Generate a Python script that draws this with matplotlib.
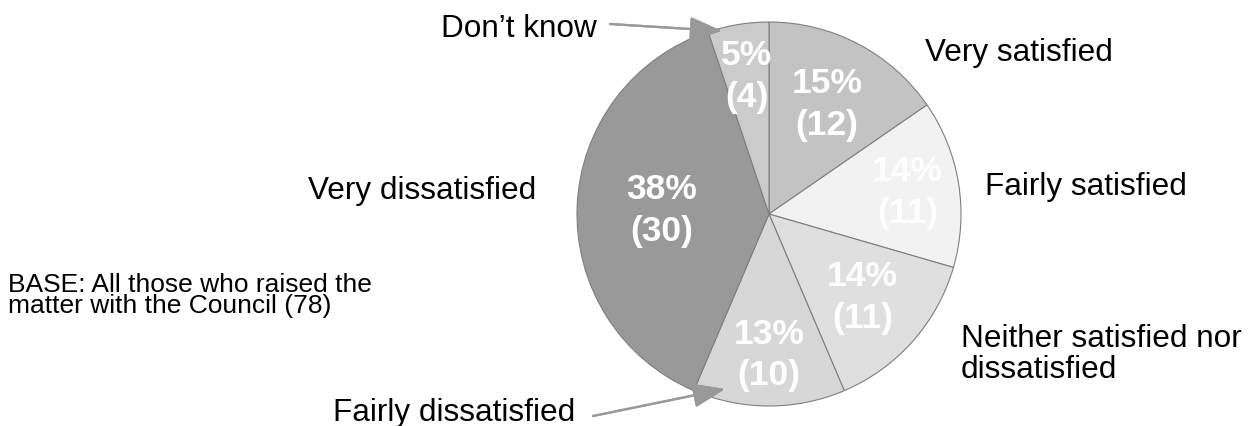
import matplotlib
matplotlib.use("Agg")
import matplotlib.pyplot as plt
import numpy as np

plt.rcParams['font.family'] = ['Liberation Sans', 'DejaVu Sans']

# survey answers, clockwise from 12 o'clock
categories = ['Very satisfied', 'Fairly satisfied', 'Neither satisfied nor\ndissatisfied',
              'Fairly dissatisfied', 'Very dissatisfied', "Don\u2019t know"]
counts = [12, 11, 11, 10, 30, 4]
percents = [15, 14, 14, 13, 38, 5]
base_note = 'BASE: All those who raised the\nmatter with the Council (78)'

colours = ['#c3c3c3', '#f2f2f2', '#dfdfdf', '#d7d7d7', '#999999', '#cbcbcb']
inner_r = [0.65, 0.73, 0.65, 0.73, 0.56, 0.73]

W, H = 1259, 427
fig = plt.figure(figsize=(W / 100, H / 100), dpi=100)


def fx(x, y):
    return x / W, 1 - y / H


cx, cy, R = 769, 215, 192
ax = fig.add_axes([(cx - R) / W, (H - cy - R) / H, 2 * R / W, 2 * R / H])
wedges, _ = ax.pie(counts, colors=colours, startangle=90, counterclock=False,
                   wedgeprops=dict(edgecolor='#7f7f7f', linewidth=0.8))
ax.set_xlim(-1, 1)
ax.set_ylim(-1, 1)
ax.axis('off')

# value labels inside the slices
for w, p, n, r in zip(wedges, percents, counts, inner_r):
    mid = np.deg2rad((w.theta1 + w.theta2) / 2)
    ax.text(r * np.cos(mid), r * np.sin(mid), f'{p}%\n({n})', ha='center', va='center',
            color='white', fontsize=25.5, fontweight='bold', linespacing=1.33)

# category labels around the pie (baseline of the last line)
label_pos = [(925, 61), (985, 195), (961, 378), (333, 421), (308, 199), (441, 37)]
for name, (x, y) in zip(categories, label_pos):
    fig.text(*fx(x, y), name, fontsize=22.7, ha='left', va='baseline', linespacing=1.05)

fig.text(*fx(8, 313), base_note, fontsize=19, ha='left', va='baseline', linespacing=0.86)

# pointer arrows for the thin slices
arrow = dict(arrowstyle='-|>,head_length=0.8,head_width=0.3', color='#999999',
             lw=1.6, mutation_scale=25, shrinkA=0, shrinkB=0)
for (x0, y0), (x1, y1) in [((610, 25), (722, 32)), ((593, 417), (725, 390))]:
    fig.add_artist(plt.annotate('', xy=fx(x1, y1), xytext=fx(x0, y0),
                                xycoords='figure fraction', textcoords='figure fraction',
                                arrowprops=arrow))

fig.savefig('out.png', dpi=100)
